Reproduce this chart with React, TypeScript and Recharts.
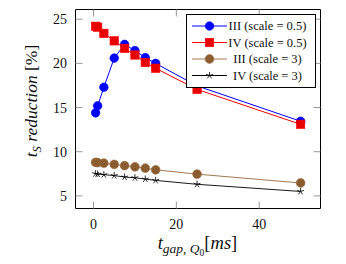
import React from 'react';
import { LineChart, Line, XAxis, YAxis, Legend } from 'recharts';

const gapTimes = [0.5, 1, 2.5, 5, 7.5, 10, 12.5, 15, 25, 50];
const seriesIIIHalf = [14.4, 15.2, 17.3, 20.6, 22.15, 21.45, 20.65, 20.0, 17.45, 13.45];
const seriesIVHalf = [24.2, 24.1, 23.4, 22.55, 21.7, 20.95, 20.1, 19.45, 17.05, 13.1];
const seriesIIIThree = [8.8, 8.76, 8.7, 8.56, 8.42, 8.29, 8.14, 7.95, 7.46, 6.46];
const seriesIVThree = [7.5, 7.46, 7.4, 7.3, 7.13, 7.05, 6.9, 6.75, 6.31, 5.5];
const xTicks = [0, 20, 40];
const yTicks = [5, 10, 15, 20, 25];
const legendLabels = ['III (scale = 0.5)', 'IV (scale = 0.5)', 'III (scale = 3)', 'IV (scale = 3)'];

const X_DOMAIN: [number, number] = [-4.35, 54.8];
const Y_DOMAIN: [number, number] = [3.57, 26.1];
const FONT = '"Liberation Serif", "Times New Roman", serif';

const data = gapTimes.map((x, i) => ({
  x,
  a: seriesIIIHalf[i],
  b: seriesIVHalf[i],
  c: seriesIIIThree[i],
  d: seriesIVThree[i],
}));

const BLUE = '#0000ff';
const RED = '#ff0000';
const BROWN_LINE = '#a27a52';
const BROWN_FILL = '#a06c3a';
const BROWN_HATCH = '#6a431f';

type MarkerKind = 'circle' | 'square' | 'hatched' | 'star';

function Marker({ kind, cx, cy }: { kind: MarkerKind; cx: number; cy: number }) {
  if (cx == null || cy == null || isNaN(cx) || isNaN(cy)) return null;
  if (kind === 'circle') {
    return <circle cx={cx} cy={cy} r={4.3} fill={BLUE} stroke={BLUE} strokeWidth={0.6} />;
  }
  if (kind === 'square') {
    return <rect x={cx - 4.2} y={cy - 4.2} width={8.4} height={8.4} fill="#e80000" stroke={RED} strokeWidth={0.6} />;
  }
  if (kind === 'hatched') {
    return (
      <g>
        <defs>
          <pattern id="brownHatch" width={2.6} height={2.6} patternUnits="userSpaceOnUse">
            <rect width={2.6} height={2.6} fill={BROWN_FILL} />
            <path d="M0,0 L2.6,2.6 M2.6,0 L0,2.6" stroke={BROWN_HATCH} strokeWidth={0.6} />
          </pattern>
        </defs>
        <circle cx={cx} cy={cy} r={4.4} fill="url(#brownHatch)" stroke={BROWN_FILL} strokeWidth={0.6} />
      </g>
    );
  }
  const rays = [0, 1, 2, 3, 4].map((k) => {
    const ang = (-90 + k * 72) * (Math.PI / 180);
    return `M${cx},${cy} L${cx + 3.6 * Math.cos(ang)},${cy + 3.6 * Math.sin(ang)}`;
  });
  return <path d={rays.join(' ')} stroke="#000" strokeWidth={0.8} fill="none" />;
}

const makeDot = (kind: MarkerKind) => (props: any) => (
  <Marker key={`${kind}-${props.index}`} kind={kind} cx={props.cx} cy={props.cy} />
);

const legendItems: { kind: MarkerKind; color: string; label: string }[] = [
  { kind: 'circle', color: BLUE, label: legendLabels[0] },
  { kind: 'square', color: RED, label: legendLabels[1] },
  { kind: 'hatched', color: BROWN_LINE, label: legendLabels[2] },
  { kind: 'star', color: '#000', label: legendLabels[3] },
];

const renderLegend = () => (
  <svg width={130} height={74} style={{ display: 'block' }}>
    <rect x={0.5} y={0.5} width={129} height={73} fill="#fff" stroke="#000" strokeWidth={1} />
    {legendItems.map((it, i) => {
      const y = 12 + i * 16.5;
      return (
        <g key={it.label}>
          <line x1={6} x2={41} y1={y} y2={y} stroke={it.color} strokeWidth={1} />
          <Marker kind={it.kind} cx={23.5} cy={y} />
          <text x={81.5} y={y + 4.3} textAnchor="middle" fontFamily={FONT} fontSize={12.5} fill="#111">
            {it.label}
          </text>
        </g>
      );
    })}
  </svg>
);

const renderXTitle = () => (
  <text x={197.5} y={248.5} textAnchor="middle" fontFamily={FONT} fontSize={18.5} fill="#111">
    <tspan fontStyle="italic">t</tspan>
    <tspan fontStyle="italic" fontSize={13.5} dy={4.5}>gap, Q</tspan>
    <tspan fontSize={9.5} dy={2.5}>0</tspan>
    <tspan dy={-7}>[</tspan>
    <tspan fontStyle="italic">ms</tspan>
    <tspan>]</tspan>
  </text>
);

const renderYTitle = () => (
  <text
    x={37}
    y={101}
    transform="rotate(-90 37 101)"
    textAnchor="middle"
    fontFamily={FONT}
    fontSize={17.5}
    fill="#111"
  >
    <tspan fontStyle="italic">t</tspan>
    <tspan fontStyle="italic" fontSize={12.5} dy={3.5}>S</tspan>
    <tspan fontStyle="italic" dy={-3.5}> reduction </tspan>
    <tspan>[%]</tspan>
  </text>
);

export default function App() {
  return (
    <div style={{ position: 'absolute', left: 0, top: 0, width: 346, height: 264, background: '#fff' }}>
      <LineChart width={346} height={264} data={data} margin={{ top: 8.5, right: 24.5, bottom: 0, left: 0 }}>
        <XAxis
          xAxisId="b"
          dataKey="x"
          type="number"
          domain={X_DOMAIN}
          ticks={xTicks}
          allowDataOverflow
          height={55.5}
          tickSize={-7}
          tickMargin={17.5}
          tick={{ fontSize: 14, fill: '#111', fontFamily: FONT }}
          axisLine={{ stroke: '#000', strokeWidth: 1 }}
          tickLine={{ stroke: '#999' }}
          label={{ content: renderXTitle }}
        />
        <XAxis
          xAxisId="t"
          orientation="top"
          dataKey="x"
          type="number"
          domain={X_DOMAIN}
          ticks={xTicks}
          allowDataOverflow
          height={1}
          tickSize={-7}
          tick={{ fontSize: 0, fill: 'none' }}
          tickFormatter={() => ''}
          axisLine={{ stroke: '#000', strokeWidth: 1 }}
          tickLine={{ stroke: '#999' }}
        />
        <YAxis
          yAxisId="l"
          type="number"
          domain={Y_DOMAIN}
          ticks={yTicks}
          allowDataOverflow
          width={75.5}
          tickSize={-7}
          tickMargin={15.5}
          tick={{ fontSize: 14, fill: '#111', fontFamily: FONT }}
          axisLine={{ stroke: '#000', strokeWidth: 1 }}
          tickLine={{ stroke: '#999' }}
          label={{ content: renderYTitle }}
        />
        <YAxis
          yAxisId="r"
          orientation="right"
          type="number"
          domain={Y_DOMAIN}
          ticks={yTicks}
          allowDataOverflow
          width={1}
          tickSize={-7}
          tick={{ fontSize: 0, fill: 'none' }}
          tickFormatter={() => ''}
          axisLine={{ stroke: '#000', strokeWidth: 1 }}
          tickLine={{ stroke: '#999' }}
        />
        <Line xAxisId="b" yAxisId="l" dataKey="a" stroke={BLUE} strokeWidth={1} dot={makeDot('circle')} isAnimationActive={false} />
        <Line xAxisId="b" yAxisId="l" dataKey="b" stroke={RED} strokeWidth={1} dot={makeDot('square')} isAnimationActive={false} />
        <Line xAxisId="b" yAxisId="l" dataKey="c" stroke={BROWN_LINE} strokeWidth={1} dot={makeDot('hatched')} isAnimationActive={false} />
        <Line xAxisId="b" yAxisId="l" dataKey="d" stroke="#000" strokeWidth={0.9} dot={makeDot('star')} isAnimationActive={false} />
        <Legend
          layout="vertical"
          align="center"
          verticalAlign="middle"
          wrapperStyle={{ left: 186, top: 14, width: 130, height: 74 }}
          content={renderLegend}
        />
      </LineChart>
    </div>
  );
}
